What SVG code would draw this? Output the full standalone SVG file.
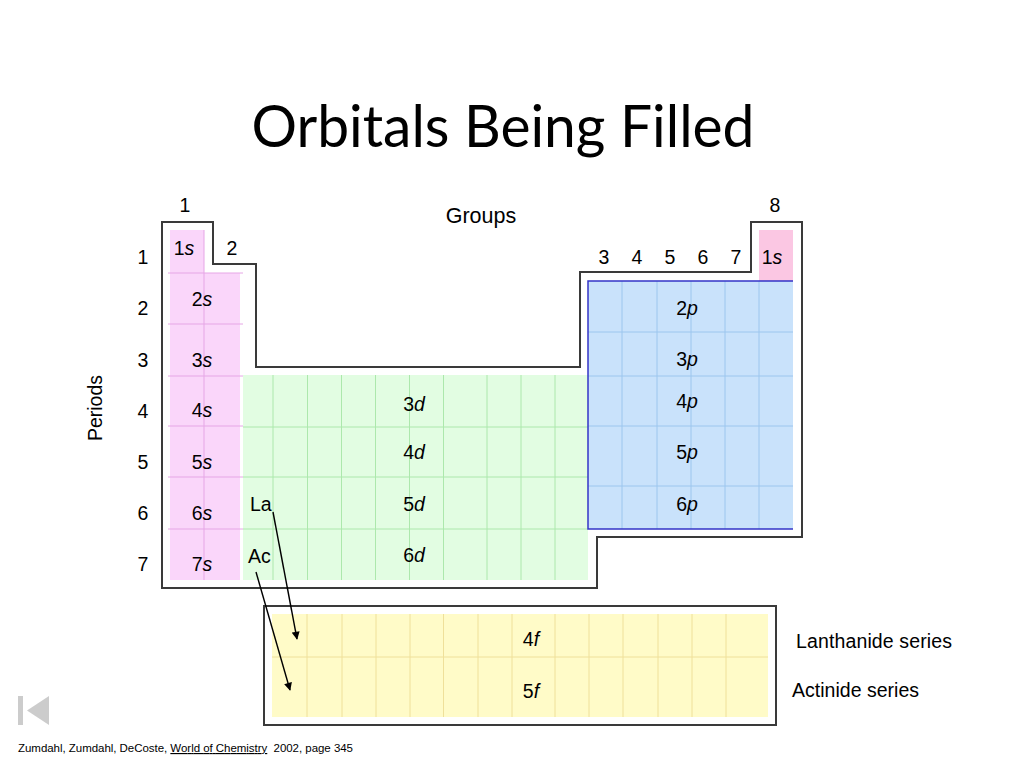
<svg xmlns="http://www.w3.org/2000/svg" width="1024" height="768" viewBox="0 0 1024 768">
<defs>
<style>
.t{font-family:"Liberation Sans",Arial,sans-serif;font-size:19.5px;fill:#000}
.m{text-anchor:middle}
.i{font-style:italic}
.ol{fill:none;stroke:#3a3a3a;stroke-width:2}
.sline{stroke:#e6a6e6;stroke-width:1}
.dline{stroke:#ace8ac;stroke-width:1}
.pline{stroke:#9cc6ee;stroke-width:1}
.fline{stroke:#efe09a;stroke-width:1}
.arrow{stroke:#000;stroke-width:1.4;fill:none;marker-end:url(#ah)}
</style>
<marker id="ah" viewBox="0 0 10 10" refX="9" refY="5" markerWidth="9" markerHeight="8" markerUnits="userSpaceOnUse" orient="auto">
<path d="M0,0 L10,5 L0,10 z" fill="#000"/>
</marker>
</defs>
<rect width="1024" height="768" fill="#fff"/>

<text id="title" x="503" y="147" font-family="Lato,'Open Sans',sans-serif" font-size="58" text-anchor="middle" textLength="503" lengthAdjust="spacingAndGlyphs">Orbitals Being Filled</text>

<g id="outline">
<path class="ol" d="M162,222 H213 V264 H256 V367 H580 V272 H751 V222 H802 V537 H597 V588 H162 Z"/>
<rect class="ol" x="264" y="606" width="512" height="119"/>
</g>

<g id="s-block">
<rect x="170" y="230" width="34" height="350" fill="#fad6fa"/>
<rect x="204" y="273" width="36" height="307" fill="#fad6fa"/>
<line class="sline" x1="204" y1="230" x2="204" y2="580"/>
<line class="sline" x1="168" y1="273" x2="243" y2="273"/>
<line class="sline" x1="168" y1="324" x2="243" y2="324"/>
<line class="sline" x1="168" y1="376" x2="243" y2="376"/>
<line class="sline" x1="168" y1="426" x2="243" y2="426"/>
<line class="sline" x1="168" y1="477" x2="243" y2="477"/>
<line class="sline" x1="168" y1="529" x2="243" y2="529"/>
<rect x="759" y="230" width="34" height="51" fill="#fbc7e3"/>
<text class="t m" x="184" y="255">1<tspan class="i">s</tspan></text>
<text class="t m" x="202" y="306">2<tspan class="i">s</tspan></text>
<text class="t m" x="202" y="367">3<tspan class="i">s</tspan></text>
<text class="t m" x="202" y="417">4<tspan class="i">s</tspan></text>
<text class="t m" x="202" y="469">5<tspan class="i">s</tspan></text>
<text class="t m" x="202" y="520">6<tspan class="i">s</tspan></text>
<text class="t m" x="202" y="571">7<tspan class="i">s</tspan></text>
<text class="t m" x="772" y="264">1<tspan class="i">s</tspan></text>
</g>

<g id="d-block">
<rect x="243" y="375" width="345" height="205" fill="#e2fde2"/>
<line class="dline" x1="243" y1="427" x2="588" y2="427"/>
<line class="dline" x1="243" y1="477" x2="588" y2="477"/>
<line class="dline" x1="243" y1="529" x2="588" y2="529"/>
<line class="dline" x1="273" y1="375" x2="273" y2="580"/>
<line class="dline" x1="307.5" y1="375" x2="307.5" y2="580"/>
<line class="dline" x1="341.5" y1="375" x2="341.5" y2="580"/>
<line class="dline" x1="375.5" y1="375" x2="375.5" y2="580"/>
<line class="dline" x1="409.5" y1="375" x2="409.5" y2="580"/>
<line class="dline" x1="443.5" y1="375" x2="443.5" y2="580"/>
<line class="dline" x1="487" y1="375" x2="487" y2="580"/>
<line class="dline" x1="521" y1="375" x2="521" y2="580"/>
<line class="dline" x1="555" y1="375" x2="555" y2="580"/>
<text class="t m" x="414" y="411">3<tspan class="i">d</tspan></text>
<text class="t m" x="414" y="459">4<tspan class="i">d</tspan></text>
<text class="t m" x="414" y="511">5<tspan class="i">d</tspan></text>
<text class="t m" x="414" y="562">6<tspan class="i">d</tspan></text>
</g>

<g id="p-block">
<rect x="588" y="281" width="205" height="248" fill="#c9e2fb"/>
<line class="pline" x1="588" y1="332" x2="793" y2="332"/>
<line class="pline" x1="588" y1="376" x2="793" y2="376"/>
<line class="pline" x1="588" y1="426" x2="793" y2="426"/>
<line class="pline" x1="588" y1="486" x2="793" y2="486"/>
<line class="pline" x1="622" y1="281" x2="622" y2="529"/>
<line class="pline" x1="657" y1="281" x2="657" y2="529"/>
<line class="pline" x1="691" y1="281" x2="691" y2="529"/>
<line class="pline" x1="725" y1="281" x2="725" y2="529"/>
<line class="pline" x1="759" y1="281" x2="759" y2="529"/>
<path d="M793,281 H588 V529 H793" fill="none" stroke="#3434c8" stroke-width="1.5"/>
<text class="t m" x="687" y="315">2<tspan class="i">p</tspan></text>
<text class="t m" x="687" y="366">3<tspan class="i">p</tspan></text>
<text class="t m" x="687" y="408">4<tspan class="i">p</tspan></text>
<text class="t m" x="687" y="459">5<tspan class="i">p</tspan></text>
<text class="t m" x="687" y="511">6<tspan class="i">p</tspan></text>
</g>

<g id="f-block">
<rect x="272" y="614" width="496" height="103" fill="#fffbc8"/>
<line class="fline" x1="272" y1="657" x2="768" y2="657"/>
<line class="fline" x1="307" y1="614" x2="307" y2="717"/>
<line class="fline" x1="342" y1="614" x2="342" y2="717"/>
<line class="fline" x1="376" y1="614" x2="376" y2="717"/>
<line class="fline" x1="410" y1="614" x2="410" y2="717"/>
<line class="fline" x1="443.5" y1="614" x2="443.5" y2="717"/>
<line class="fline" x1="478" y1="614" x2="478" y2="717"/>
<line class="fline" x1="512" y1="614" x2="512" y2="717"/>
<line class="fline" x1="555" y1="614" x2="555" y2="717"/>
<line class="fline" x1="589" y1="614" x2="589" y2="717"/>
<line class="fline" x1="623" y1="614" x2="623" y2="717"/>
<line class="fline" x1="658" y1="614" x2="658" y2="717"/>
<line class="fline" x1="692" y1="614" x2="692" y2="717"/>
<line class="fline" x1="726" y1="614" x2="726" y2="717"/>
<text class="t m" x="531" y="646">4<tspan class="i">f</tspan></text>
<text class="t m" x="531" y="698">5<tspan class="i">f</tspan></text>
</g>

<g id="labels">
<text class="t m" x="185" y="212">1</text>
<text class="t m" x="232" y="255">2</text>
<text class="t m" x="604" y="264">3</text>
<text class="t m" x="637" y="264">4</text>
<text class="t m" x="670" y="264">5</text>
<text class="t m" x="703" y="264">6</text>
<text class="t m" x="736" y="264">7</text>
<text class="t m" x="775" y="212">8</text>
<text class="t m" x="481" y="223" style="font-size:21.5px">Groups</text>
<text class="t m" x="143" y="264">1</text>
<text class="t m" x="143" y="315">2</text>
<text class="t m" x="143" y="367">3</text>
<text class="t m" x="143" y="418">4</text>
<text class="t m" x="143" y="469">5</text>
<text class="t m" x="143" y="520">6</text>
<text class="t m" x="143" y="571">7</text>
<text class="t m" transform="translate(102,408) rotate(-90)">Periods</text>
<text class="t" x="250" y="511">La</text>
<text class="t" x="248" y="563">Ac</text>
<text class="t" x="796" y="648" textLength="156">Lanthanide series</text>
<text class="t" x="792" y="697" textLength="127">Actinide series</text>
</g>

<g id="connectors">
<line class="arrow" x1="273" y1="512" x2="297" y2="639"/>
<line class="arrow" x1="256" y1="572" x2="290" y2="690"/>
</g>

<g id="nav">
<rect x="18" y="696" width="5" height="29" fill="#cccccc"/>
<path d="M27,710.5 L49,696 L49,725 Z" fill="#cccccc"/>
</g>

<text id="citation" x="18" y="752" font-family="'Liberation Sans',Arial,sans-serif" font-size="11.5" textLength="335">Zumdahl, Zumdahl, DeCoste, <tspan text-decoration="underline">World of Chemistry</tspan>&#160; 2002, page 345</text>
</svg>
